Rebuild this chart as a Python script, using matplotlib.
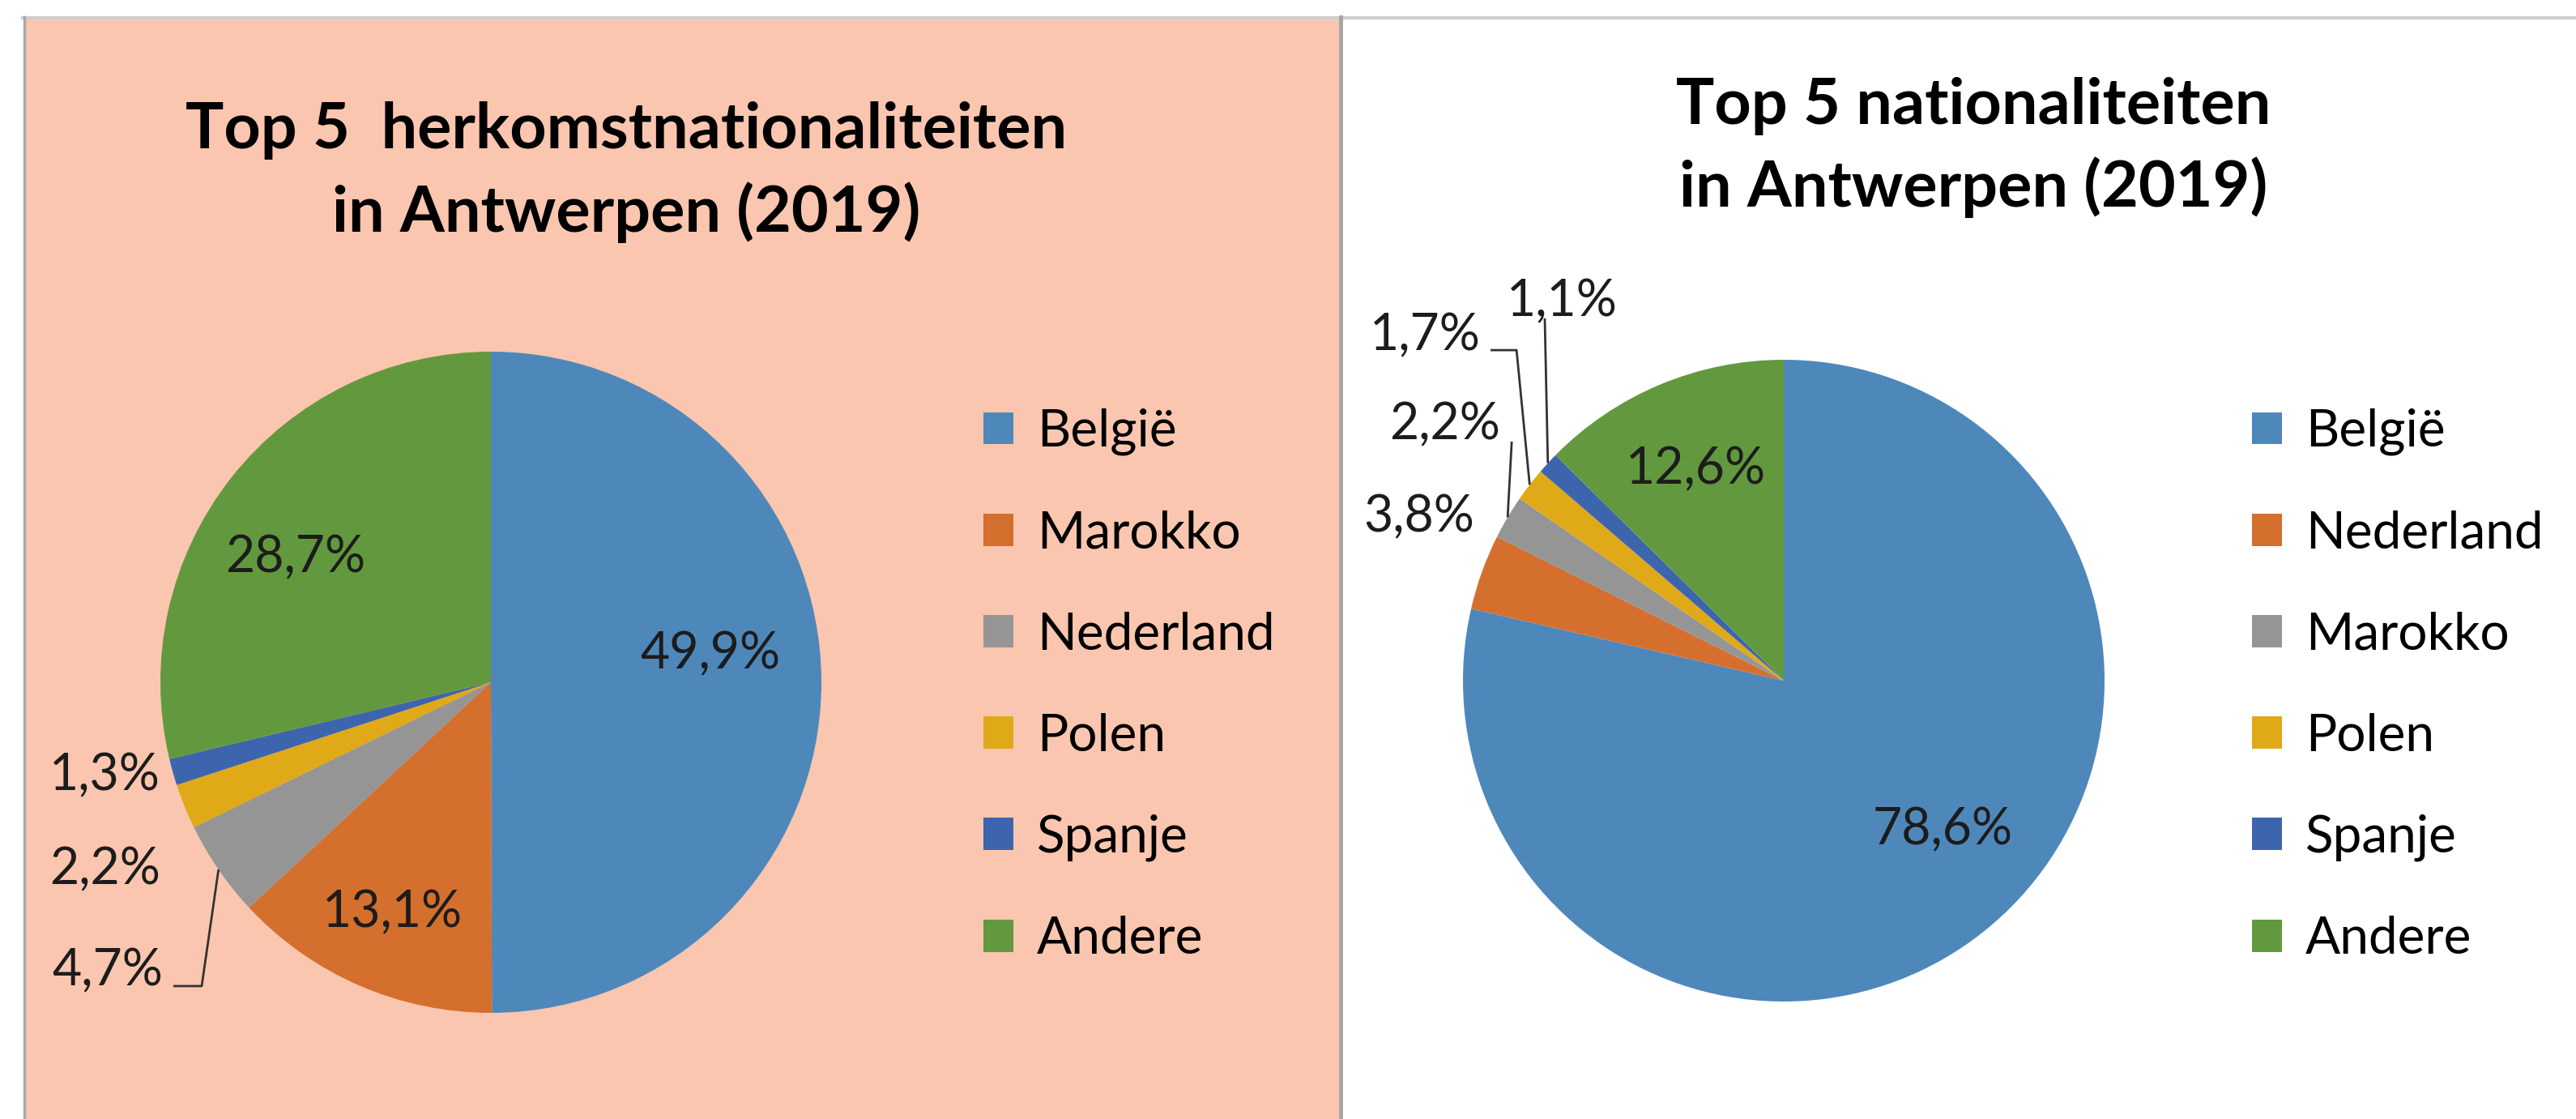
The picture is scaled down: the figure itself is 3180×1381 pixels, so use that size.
import numpy as np
import matplotlib
matplotlib.use('Agg')
from matplotlib import pyplot as plt
from matplotlib.patches import Rectangle
from matplotlib.lines import Line2D

plt.rcParams['font.family'] = ['Lato', 'DejaVu Sans']

# data
left_title = 'Top 5  herkomstnationaliteiten\nin Antwerpen (2019)'
left_labels = ['België', 'Marokko', 'Nederland', 'Polen', 'Spanje', 'Andere']
left_values = [49.9, 13.1, 4.7, 2.2, 1.3, 28.7]

right_title = 'Top 5 nationaliteiten\nin Antwerpen (2019)'
right_labels = ['België', 'Nederland', 'Marokko', 'Polen', 'Spanje', 'Andere']
right_values = [78.6, 3.8, 2.2, 1.7, 1.1, 12.6]

slice_colors = ['#4e88bb', '#d46f2d', '#959595', '#e0a917', '#3d65ae', '#63993e']

W, H = 3180, 1381
fig = plt.figure(figsize=(W / 100, H / 100), dpi=100)
fig.patch.set_facecolor('white')


def fx(px):
    return px / W


def fy(py):
    return 1 - py / H


# panel backgrounds and borders (pixel layout)
fig.patches.append(Rectangle((fx(30), fy(H)), fx(1653) - fx(30), fy(23) - fy(H),
                             transform=fig.transFigure, facecolor='#fac6af',
                             edgecolor='none', zorder=-5))
fig.lines.append(Line2D([fx(28), 1], [fy(21.5), fy(21.5)], transform=fig.transFigure,
                        color='#cfcfcf', lw=3, zorder=-4))
fig.lines.append(Line2D([fx(29.5), fx(29.5)], [fy(21), 0], transform=fig.transFigure,
                        color='#a9a9a9', lw=2.5, zorder=-4))
fig.lines.append(Line2D([fx(1655), fx(1655)], [fy(21), 0], transform=fig.transFigure,
                        color='#a5a5a5', lw=3.5, zorder=-4))


def pie_panel(x0, x1, cx, cy, r, values, labels, label_xy, leaders,
              title, title_x, title_y, legend_x, legend_y):
    y0, y1 = 23, H
    ax = fig.add_axes([fx(x0), fy(y1), fx(x1) - fx(x0), fy(y0) - fy(y1)])
    wedges, _ = ax.pie(values, colors=slice_colors, startangle=90,
                       counterclock=False, radius=1,
                       wedgeprops=dict(linewidth=0))
    ax.set_aspect('auto')
    ax.set_xlim((x0 - cx) / r, (x1 - cx) / r)
    ax.set_ylim((cy - y1) / r, (cy - y0) / r)
    ax.axis('off')

    for i, (v, w) in enumerate(zip(values, wedges)):
        txt = ('%.1f%%' % v).replace('.', ',')
        lx, ly = label_xy[i]
        ax.text(lx, ly, txt, ha='center', va='center', fontsize=45,
                color='#1c1c1c')
        if i in leaders:
            mid = np.deg2rad((w.theta1 + w.theta2) / 2)
            pts = leaders[i] + [(np.cos(mid), np.sin(mid))]
            xs, ys = zip(*pts)
            ax.plot(xs, ys, color='#333333', lw=2.0, solid_capstyle='butt')

    for k, line in enumerate(title.split('\n')):
        fig.text(fx(title_x), fy(title_y[k]), line, ha='center', va='baseline',
                 fontsize=57, fontweight='bold', color='black')

    ax.legend(wedges, labels, loc='upper left',
              bbox_to_anchor=(fx(legend_x), fy(legend_y)),
              bbox_transform=fig.transFigure, frameon=False, fontsize=46,
              handlelength=0.58, handleheight=0.58, handletextpad=0.45,
              labelspacing=1.05, borderpad=0, borderaxespad=0)
    return ax


# label positions in pie-radius units
left_label_xy = [(0.664, 0.086), (-0.299, -0.696), (-1.159, -0.873),
                 (-1.167, -0.566), (-1.167, -0.282), (-0.591, 0.377)]
left_leaders = {2: [(-0.961, -0.919), (-0.875, -0.919)]}

right_label_xy = [(0.495, -0.465), (-1.136, 0.510), (-1.056, 0.798),
                  (-1.119, 1.076), (-0.692, 1.182), (-0.275, 0.659)]
right_leaders = {2: [(-0.848, 0.745)],
                 3: [(-0.914, 1.030), (-0.833, 1.030)],
                 4: [(-0.745, 1.129)]}

pie_panel(30, 1653, 606, 842, 408, left_values, left_labels, left_label_xy,
          left_leaders, left_title, 773, [183, 286], 1214, 504)
pie_panel(1657, W, 2202, 840, 396, right_values, right_labels, right_label_xy,
          right_leaders, right_title, 2436, [153, 255], 2780, 504)

fig.savefig('out.png', dpi=100, facecolor='white')
